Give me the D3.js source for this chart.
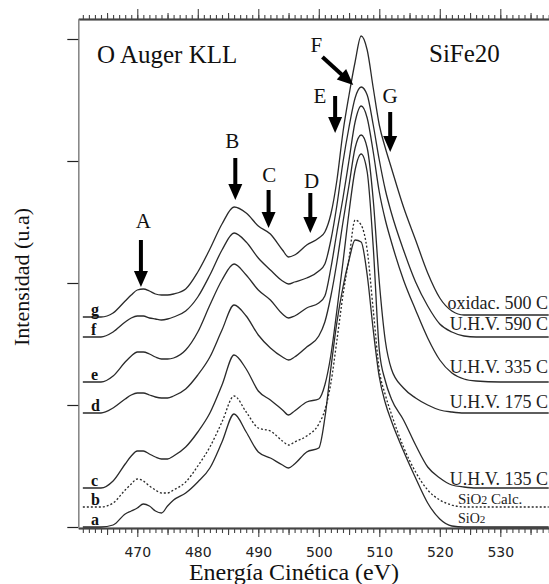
<!DOCTYPE html>
<html>
<head>
<meta charset="utf-8">
<script src="https://cdn.jsdelivr.net/npm/d3@7.9.0/dist/d3.min.js"></script>
<style>
  body { margin: 0; background: #fff; }
  svg { display: block; }
</style>
</head>
<body>
<svg id="chart" width="549" height="584"></svg>
<script>
// energy grid (eV) shared by all spectra
const energy = [461, 464, 466, 468, 469, 470, 471, 472, 473, 474, 475, 476, 478, 480, 482, 484, 486, 488, 490, 492, 494, 495, 496, 498, 500, 501, 502, 503, 504, 505, 506, 507, 508, 509, 510, 511, 512, 514, 516, 518, 520, 522, 524, 526, 530, 538];

// intensities (u.a.), curves are already offset
const specA = [0, 0, 2, 13, 16, 19, 23, 21, 16, 14, 21, 27, 34, 45, 59, 85, 113, 95, 75, 69, 62, 59, 63, 75, 79, 109, 159, 205, 240, 267, 287, 285, 252, 197, 150, 124, 106, 76, 49, 24, 8, 1, 0, 0, 0, 0];
const specB = [20, 20, 24, 37, 43, 48, 46, 41, 37, 34, 34, 37, 45, 61, 80, 105, 131, 115, 99, 96, 86, 82, 85, 91, 103, 117, 144, 187, 232, 269, 307, 302, 277, 217, 157, 132, 113, 80, 55, 37, 27, 22, 20, 20, 20, 20];
const specC = [39, 39, 46, 63, 71, 76, 76, 73, 70, 68, 68, 71, 80, 95, 114, 142, 172, 158, 136, 127, 117, 112, 116, 125, 128, 142, 172, 217, 265, 315, 357, 373, 355, 280, 177, 146, 128, 107, 82, 60, 49, 42, 40, 39, 39, 39];
const specD = [114, 114, 119, 128, 132, 134, 134, 132, 130, 129, 129, 131, 138, 152, 170, 197, 222, 211, 192, 179, 170, 167, 170, 180, 191, 205, 231, 265, 305, 342, 379, 392, 379, 327, 245, 186, 158, 139, 129, 122, 117, 115, 114, 114, 114, 114];
const specE = [145, 145, 151, 165, 171, 175, 175, 173, 170, 168, 168, 169, 177, 195, 222, 247, 263, 252, 237, 227, 213, 209, 211, 219, 224, 231, 259, 295, 329, 367, 405, 421, 409, 375, 335, 307, 285, 247, 217, 189, 167, 154, 148, 146, 145, 145];
const specF = [190, 190, 195, 205, 209, 211, 211, 209, 208, 207, 208, 210, 216, 230, 252, 277, 294, 285, 269, 257, 246, 243, 245, 249, 256, 263, 287, 322, 365, 400, 429, 440, 432, 402, 367, 337, 314, 277, 245, 221, 203, 195, 191, 190, 190, 190];
const specG = [210, 210, 214, 226, 232, 237, 238, 236, 233, 232, 232, 233, 238, 255, 278, 303, 320, 314, 301, 293, 277, 270, 272, 282, 289, 295, 313, 347, 395, 432, 465, 491, 477, 439, 402, 379, 359, 320, 287, 254, 229, 216, 212, 212, 212, 212];

const curveKeys = ["a", "b", "c", "d", "e", "f", "g"];
const curveNames = ["SiO2", "SiO2 Calc.", "U.H.V. 135 C", "U.H.V. 175 C", "U.H.V. 335 C", "U.H.V. 590 C", "oxidac. 500 C"];
const curveValues = [specA, specB, specC, specD, specE, specF, specG];

const xMajorTicks = [470, 480, 490, 500, 510, 520, 530];
const yTicks = [0, 122, 244, 366, 488];

// peak markers: energy of arrow, arrow top, arrow tip (u.a.)
const markLetters = ["A", "B", "C", "D", "E", "G"];
const markEnergy = [470.6, 486.2, 491.7, 498.6, 502.7, 511.8];
const markFrom = [287, 369, 337, 334, 431, 415];
const markTo = [240, 327, 299, 294, 394, 375];

const svg = d3.select("#chart");
const x = d3.scaleLinear().domain([460.25, 538]).range([78.3, 548.7]);
const y = d3.scaleLinear().domain([0, 508]).range([527, 19]);

// ---- axes ----
function tickAxis(axisFn, ty, values, size, fmt) {
  const g = svg.append("g").attr("transform", `translate(0,${ty})`)
    .call(axisFn(x).tickValues(values).tickSize(size).tickSizeOuter(0)
      .tickFormat(fmt || "").tickPadding(10));
  g.select(".domain").attr("stroke", "#444").attr("stroke-width", 1.3);
  g.selectAll(".tick line").attr("stroke", "#444").attr("stroke-width", 1.1);
  return g;
}
const minor = d3.range(461, 539);
const medium = d3.range(465, 539, 10);
tickAxis(d3.axisBottom, 528, minor, 5);
tickAxis(d3.axisBottom, 528, medium, 7);
const bottomMajor = tickAxis(d3.axisBottom, 528, xMajorTicks, 9, d3.format("d"));
bottomMajor.selectAll("text")
  .attr("font-family", "'DejaVu Sans', sans-serif").attr("font-size", 14).attr("fill", "#222");
tickAxis(d3.axisTop, 19, minor, 4);
tickAxis(d3.axisTop, 19, medium, 6);
tickAxis(d3.axisTop, 19, xMajorTicks, 10);

const left = svg.append("g").attr("transform", "translate(78.3,0)")
  .call(d3.axisLeft(y).tickValues(yTicks).tickSize(11).tickSizeOuter(0).tickFormat(""));
left.select(".domain").attr("stroke", "#888").attr("stroke-width", 1.6);
left.selectAll(".tick line").attr("stroke", "#222").attr("stroke-width", 1.2);

// ---- spectra ----
const line = d3.line()
  .x((d, i) => x(energy[i]))
  .y(d => y(d))
  .curve(d3.curveMonotoneX);

curveValues.forEach((vals, idx) => {
  svg.append("path")
    .attr("d", line(vals))
    .attr("fill", "none")
    .attr("stroke", "#2a2a2a")
    .attr("stroke-width", 1.3)
    .attr("stroke-dasharray", curveKeys[idx] === "b" ? "2,2" : null);
});

// left letters
const serif = "'Liberation Serif', 'Times New Roman', serif";
curveValues.forEach((vals, idx) => {
  svg.append("text")
    .attr("x", 91)
    .attr("y", y(vals[0]) - 2)
    .attr("font-family", serif)
    .attr("font-weight", "bold")
    .attr("font-size", 16)
    .attr("fill", "#111")
    .text(curveKeys[idx]);
});

// right labels
const rightDy = [4, 3, 3, 5, 9, 7, 6];
const rightSize = [14, 15, 18, 18, 18, 18, 18];
curveValues.forEach((vals, idx) => {
  const name = curveNames[idx];
  const t = svg.append("text")
    .attr("x", idx < 2 ? 458 : 548)
    .attr("text-anchor", idx < 2 ? "start" : "end")
    .attr("y", y(vals[vals.length - 1]) - rightDy[idx])
    .attr("font-family", serif)
    .attr("font-size", rightSize[idx])
    .attr("fill", "#222");
  if (name.startsWith("SiO2")) {
    t.append("tspan").text("SiO");
    t.append("tspan").attr("font-size", rightSize[idx] * 0.8).text("2");
    t.append("tspan").text(name.slice(4));
  } else {
    t.text(name);
  }
});

// ---- titles ----
svg.append("text").attr("x", 97).attr("y", 63)
  .attr("font-family", serif).attr("font-size", 25).attr("fill", "#111")
  .text("O Auger KLL");
svg.append("text").attr("x", 429).attr("y", 62)
  .attr("font-family", serif).attr("font-size", 25).attr("fill", "#111")
  .text("SiFe20");

svg.append("text").attr("x", 294).attr("y", 580).attr("text-anchor", "middle")
  .attr("font-family", serif).attr("font-size", 24).attr("fill", "#111")
  .text("Energía Cinética (eV)");
svg.append("text").attr("transform", "translate(29,277) rotate(-90)")
  .attr("text-anchor", "middle")
  .attr("font-family", serif).attr("font-size", 22).attr("fill", "#111")
  .text("Intensidad (u.a)");

// ---- arrows ----
function arrow(x1, y1, x2, y2) {
  const len = Math.hypot(x2 - x1, y2 - y1);
  const ux = (x2 - x1) / len, uy = (y2 - y1) / len;
  const hl = 16, hw = 7;
  const bx = x2 - ux * hl, by = y2 - uy * hl;
  svg.append("line")
    .attr("x1", x1).attr("y1", y1).attr("x2", bx + ux).attr("y2", by + uy)
    .attr("stroke", "#000").attr("stroke-width", 4);
  svg.append("path")
    .attr("d", `M${x2},${y2}L${bx - uy * hw},${by + ux * hw}L${bx + uy * hw},${by - ux * hw}Z`)
    .attr("fill", "#000");
}

const letterX = [471.0, 485.7, 491.8, 498.8, 500.2, 511.8];
const letterY = [299, 379, 345, 339, 424, 424];
markLetters.forEach((l, i) => {
  arrow(x(markEnergy[i]), y(markFrom[i]), x(markEnergy[i]), y(markTo[i]));
  svg.append("text").attr("x", x(letterX[i])).attr("y", y(letterY[i]))
    .attr("text-anchor", "middle")
    .attr("font-family", serif).attr("font-size", 21).attr("fill", "#111")
    .text(l);
});
// F points diagonally at the main peak
arrow(x(500.6), y(470), x(505.7), y(442));
svg.append("text").attr("x", x(499.6)).attr("y", y(475))
  .attr("text-anchor", "middle")
  .attr("font-family", serif).attr("font-size", 21).attr("fill", "#111")
  .text("F");
</script>
</body>
</html>
